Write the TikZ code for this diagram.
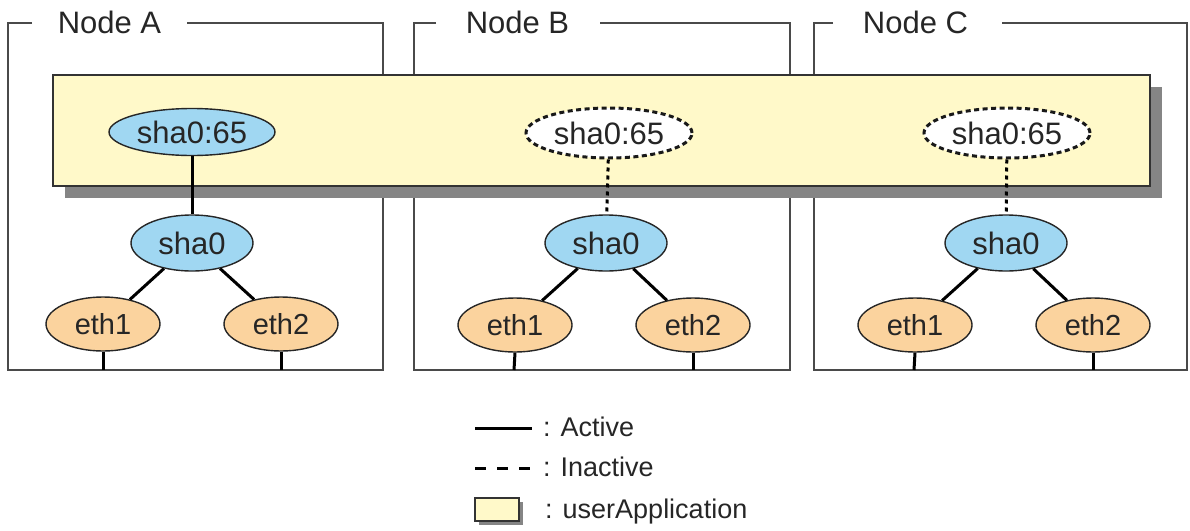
\documentclass[tikz,border=0pt]{standalone}
\usepackage{fontspec}
\setmainfont{Liberation Sans}
\usetikzlibrary{shapes.geometric}
\definecolor{framegray}{HTML}{4A4A4A}
\definecolor{uappfill}{HTML}{FFF9C9}
\definecolor{shadowgray}{HTML}{858585}
\definecolor{ifblue}{HTML}{A0D7F2}
\definecolor{ethorange}{HTML}{FBD39E}
\tikzset{
  frameline/.style={draw=framegray, line width=1.8pt},
  titletext/.style={anchor=base, inner sep=0pt, font=\fontsize{31}{37}\selectfont, text=black!85},
  uapp/.style={draw=black!80, line width=1.5pt, fill=uappfill},
  uappshadow/.style={fill=shadowgray, draw=none},
  ifbase/.style={ellipse, inner sep=0pt, line width=1.4pt, draw=black!85, text=black!85},
  virt/.style={ifbase, fill=ifblue, minimum width=166pt, minimum height=47pt, font=\fontsize{31}{37}\selectfont},
  virtoff/.style={ifbase, fill=white, dash pattern=on 5pt off 3.5pt, line width=3pt, draw=black!90, minimum width=166pt, minimum height=50pt, font=\fontsize{31}{37}\selectfont},
  shaif/.style={ifbase, fill=ifblue, minimum width=122pt, minimum height=56pt, font=\fontsize{31}{37}\selectfont},
  ethif/.style={ifbase, fill=ethorange, minimum width=114pt, minimum height=54pt, font=\fontsize{29}{35}\selectfont},
  active/.style={draw=black, line width=3pt},
  inactive/.style={draw=black, line width=3pt, dash pattern=on 4pt off 4pt},
  legendtext/.style={anchor=base west, inner sep=0pt, font=\fontsize{27}{32}\selectfont, text=black!85}
}
\begin{document}
\begin{tikzpicture}[x=1pt,y=-1pt]
\useasboundingbox (0,0) rectangle (1190,530);
% node frames
\draw[frameline] (32,23) -- (8,23) -- (8,370) -- (383,370) -- (383,23) -- (187,23);
\node[titletext] (tA) at (109.5,33) {Node A};
\draw[frameline] (436,23) -- (414,23) -- (414,370) -- (790,370) -- (790,23) -- (600,23);
\node[titletext] (tB) at (517.5,33) {Node B};
\draw[frameline] (833,23) -- (814,23) -- (814,370) -- (1187,370) -- (1187,23) -- (1002,23);
\node[titletext] (tC) at (915.5,33) {Node C};
% userApplication box
\fill[uappshadow] (65,87) rectangle (1162,198);
\draw[uapp] (53,75) rectangle (1150,186);
% interfaces
\node[virt] (vA) at (192,132) {sha0:65};
\node[virtoff] (vB) at (609,133) {sha0:65};
\node[virtoff] (vC) at (1007,133) {sha0:65};
\node[shaif] (sA) at (192,243) {sha0};
\node[shaif] (sB) at (606,243) {sha0};
\node[shaif] (sC) at (1006,243) {sha0};
\node[ethif] (e1A) at (103,324) {eth1};
\node[ethif] (e2A) at (281,324) {eth2};
\node[ethif] (e1B) at (515,325) {eth1};
\node[ethif] (e2B) at (693,325) {eth2};
\node[ethif] (e1C) at (915,325) {eth1};
\node[ethif] (e2C) at (1093,325) {eth2};
% connectors
\draw[active] (vA) -- (sA);
\draw[inactive] (vB) -- (sB);
\draw[inactive] (vC) -- (sC);
\foreach \n in {A,B,C}{
  \draw[active] (s\n) -- (e1\n);
  \draw[active] (s\n) -- (e2\n);
}
\coordinate (b1A) at (103,370);
\coordinate (b2A) at (281,370);
\coordinate (b1B) at (514,370);
\coordinate (b2B) at (693,370);
\coordinate (b1C) at (914,370);
\coordinate (b2C) at (1093,370);
\foreach \n in {A,B,C}{
  \draw[active] (e1\n.south) -- (b1\n);
  \draw[active] (e2\n.south) -- (b2\n);
}
% legend
\coordinate (la1) at (475,428);
\coordinate (la2) at (532,428);
\draw[active] (la1) -- (la2);
\node[legendtext] (lt1) at (543,436) {: Active};
\coordinate (li1) at (475,468);
\coordinate (li2) at (532,468);
\draw[draw=black, line width=3pt, dash pattern=on 11pt off 11pt] (li1) -- (li2);
\node[legendtext] (lt2) at (543,476) {: Inactive};
\fill[uappshadow] (479,502) rectangle (523,525);
\draw[uapp] (475,498) rectangle (519,521);
\node[legendtext] (lt3) at (545,518) {: userApplication};
\end{tikzpicture}
\end{document}
